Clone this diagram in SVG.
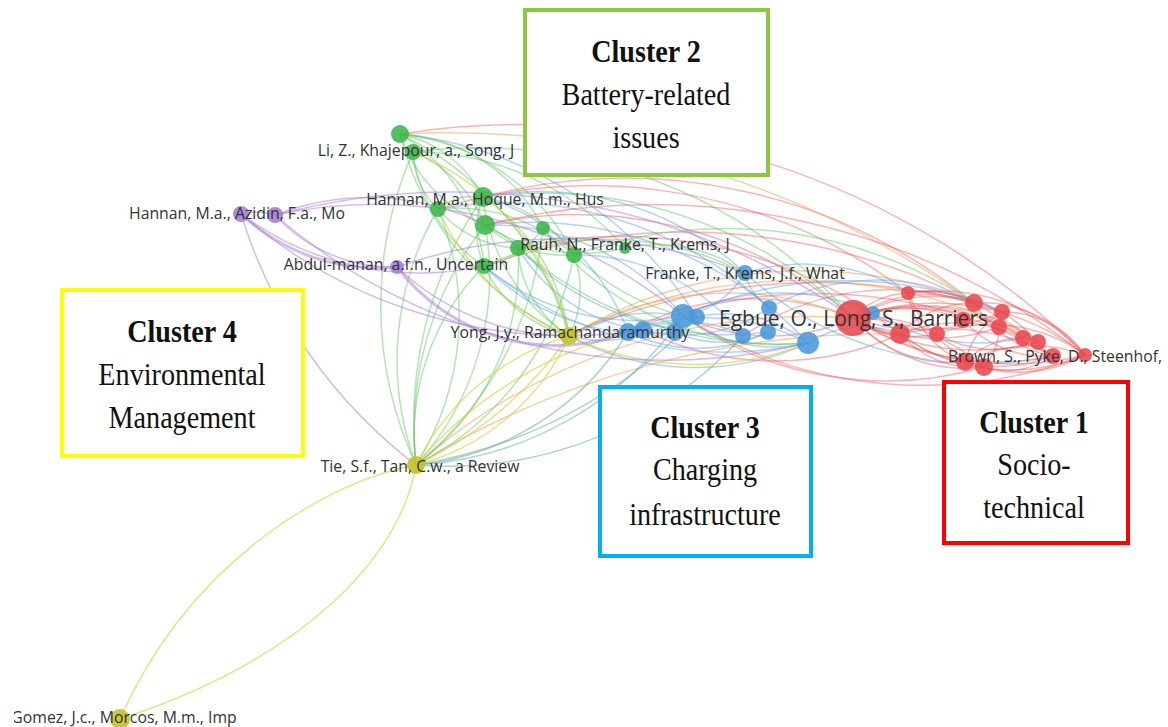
<svg xmlns="http://www.w3.org/2000/svg" width="1168" height="727" viewBox="0 0 1168 727">
<style>
path{fill:none;stroke-width:1.5;stroke-linecap:round}
.er{stroke:#e8474c;stroke-opacity:.4}
.eo{stroke:#f0a050;stroke-opacity:.5}
.eb{stroke:#5a9ee0;stroke-opacity:.45}
.et{stroke:#5fae86;stroke-opacity:.5}
.eg{stroke:#5cc25a;stroke-opacity:.45}
.ey{stroke:#d2d24a;stroke-opacity:.65}
.ep{stroke:#a57bd6;stroke-opacity:.5}
.thick{stroke-width:3}
.nr{fill:#e8484e;fill-opacity:.88}
.ng{fill:#3db54a;fill-opacity:.88}
.nb{fill:#4a97dc;fill-opacity:.88}
.ny{fill:#c4c12a;fill-opacity:.9}
.np{fill:#a57bd6;fill-opacity:.88}
.lb{font-family:"Open Sans","DejaVu Sans",sans-serif;font-size:15.8px;fill:#333;text-anchor:middle}
.box{fill:#fff;stroke-width:4}
.bt{font-family:"Liberation Serif","Times New Roman",serif;font-size:32px;fill:#111;text-anchor:middle}
.bt.b{font-weight:bold}
</style>
<defs>
<clipPath id="clipL"><rect x="14" y="0" width="1154" height="727"/></clipPath>
</defs>
<rect width="1168" height="727" fill="#fff"/>
<g id="connectors">
<path class="er" d="M853,318 A240,240 0 0 1 1085,355"/>
<path class="er" d="M853,318 A300,300 0 0 0 1085,355"/>
<path class="er" d="M853,318 A220,220 0 0 1 1053,356"/>
<path class="er" d="M853,318 A260,260 0 0 0 1053,356"/>
<path class="er" d="M853,318 A200,200 0 0 1 1038,342"/>
<path class="er" d="M853,318 A250,250 0 0 0 1038,342"/>
<path class="er" d="M853,318 A190,190 0 0 1 1023,338"/>
<path class="er" d="M853,318 A160,160 0 0 1 1002,312"/>
<path class="er" d="M853,318 A200,200 0 0 0 1002,312"/>
<path class="er" d="M853,318 A130,130 0 0 1 974,303"/>
<path class="er" d="M853,318 A180,180 0 0 0 999,327"/>
<path class="er" d="M853,318 A80,80 0 0 1 908,293"/>
<path class="er" d="M853,318 A70,70 0 0 0 900,334"/>
<path class="er" d="M853,318 A110,110 0 0 0 937,334"/>
<path class="er" d="M853,318 A150,150 0 0 1 937,334"/>
<path class="er" d="M853,318 A130,130 0 0 0 965,362"/>
<path class="er" d="M853,318 A150,150 0 0 0 984,367"/>
<path class="er" d="M853,318 A200,200 0 0 1 984,367"/>
<path class="er" d="M853,318 A140,140 0 0 1 963,320"/>
<path class="er" d="M908,293 A200,200 0 0 1 1085,355"/>
<path class="er" d="M908,293 A150,150 0 0 1 1038,342"/>
<path class="er" d="M908,293 A100,100 0 0 1 974,303"/>
<path class="er" d="M908,293 A130,130 0 0 0 984,367"/>
<path class="er" d="M900,334 A160,160 0 0 0 1053,356"/>
<path class="er" d="M900,334 A220,220 0 0 1 1053,356"/>
<path class="er" d="M900,334 A190,190 0 0 0 1085,355"/>
<path class="er" d="M900,334 A150,150 0 0 1 1023,338"/>
<path class="er" d="M900,334 A100,100 0 0 0 984,367"/>
<path class="er" d="M900,334 A100,100 0 0 1 974,303"/>
<path class="er" d="M937,334 A160,160 0 0 1 1085,355"/>
<path class="er" d="M937,334 A120,120 0 0 0 1038,342"/>
<path class="er" d="M974,303 A130,130 0 0 1 1085,355"/>
<path class="er" d="M974,303 A120,120 0 0 0 1053,356"/>
<path class="er" d="M1002,312 A100,100 0 0 1 1085,355"/>
<path class="er" d="M1002,312 A80,80 0 0 0 965,362"/>
<path class="er" d="M963,320 A110,110 0 0 0 1053,356"/>
<path class="er" d="M965,362 A150,150 0 0 1 1085,355"/>
<path class="er" d="M965,362 A140,140 0 0 0 1085,355"/>
<path class="er" d="M984,367 A80,80 0 0 0 1053,356"/>
<path class="er" d="M999,327 A60,60 0 0 1 984,367"/>
<path class="er" d="M1023,338 A80,80 0 0 0 965,362"/>
<path class="er" d="M908,293 A90,90 0 0 0 965,362"/>
<path class="er" d="M974,303 A550,550 0 0 0 483,197"/>
<path class="er" d="M1085,355 A800,800 0 0 0 400,134"/>
<path class="er" d="M853,318 A420,420 0 0 0 485,225"/>
<path class="er" d="M908,293 A520,520 0 0 0 438,209"/>
<path class="er" d="M1038,342 A620,620 0 0 0 484,266"/>
<path class="er" d="M900,334 A450,450 0 0 0 518,248"/>
<path class="er" d="M853,318 A200,200 0 0 1 683,316"/>
<path class="er" d="M853,318 A260,260 0 0 0 628,332"/>
<path class="er" d="M900,334 A300,300 0 0 1 643,330"/>
<path class="er" d="M974,303 A260,260 0 0 0 743,336"/>
<path class="er" d="M1085,355 A450,450 0 0 1 683,316"/>
<path class="er" d="M1053,356 A480,480 0 0 0 628,332"/>
<path class="er" d="M984,367 A350,350 0 0 1 683,316"/>
<path class="er" d="M1002,312 A600,600 0 0 0 569,336"/>
<path class="er" d="M1085,355 A700,700 0 0 0 485,225"/>
<path class="eo" d="M569,336 A320,320 0 0 1 853,318"/>
<path class="eo" d="M569,336 A460,460 0 0 1 974,303"/>
<path class="eo" d="M416,465 A900,900 0 0 1 900,334"/>
<path class="eo" d="M400,134 A900,900 0 0 1 974,303"/>
<path class="eo" d="M569,336 A500,500 0 0 1 1038,342"/>
<path class="eo" d="M416,465 A600,600 0 0 1 853,318"/>
<path class="eb" d="M683,316 A250,250 0 0 0 485,225"/>
<path class="eb" d="M683,316 A240,240 0 0 1 484,266"/>
<path class="eb" d="M745,273 A300,300 0 0 0 483,197"/>
<path class="eb" d="M643,330 A170,170 0 0 1 518,248"/>
<path class="eb" d="M743,336 A210,210 0 0 0 574,255"/>
<path class="eb" d="M808,343 A380,380 0 0 0 485,225"/>
<path class="eb" d="M769,308 A380,380 0 0 0 438,209"/>
<path class="eb" d="M675,332 A230,230 0 0 1 484,266"/>
<path class="eb" d="M808,343 A380,380 0 0 1 484,266"/>
<path class="eb" d="M697,317 A400,400 0 0 0 400,134"/>
<path class="eb" d="M768,332 A300,300 0 0 1 518,248"/>
<path class="eb" d="M628,332 A220,220 0 0 0 483,197"/>
<path class="eb" d="M683,316 A140,140 0 0 1 569,336"/>
<path class="eb" d="M683,316 A160,160 0 0 0 569,336"/>
<path class="eb" d="M808,343 A270,270 0 0 1 569,336"/>
<path class="eb" d="M683,316 A350,350 0 0 1 416,465"/>
<path class="eb" d="M683,316 A150,150 0 0 0 808,343"/>
<path class="eb" d="M745,273 A60,60 0 0 0 769,308"/>
<path class="eb" d="M643,330 A120,120 0 0 1 743,336"/>
<path class="eb" d="M628,332 A160,160 0 0 0 768,332"/>
<path class="eb" d="M697,317 A130,130 0 0 1 808,343"/>
<path class="eb" d="M675,332 A110,110 0 0 0 768,332"/>
<path class="eb" d="M745,273 A90,90 0 0 1 683,316"/>
<path class="eb" d="M683,316 A220,220 0 0 1 873,313"/>
<path class="eb" d="M628,332 A220,220 0 0 1 808,343"/>
<path class="eb" d="M643,330 A150,150 0 0 0 769,308"/>
<path class="eb" d="M745,273 A200,200 0 0 1 908,293"/>
<path class="eb" d="M808,343 A100,100 0 0 1 900,334"/>
<path class="eb" d="M769,308 A220,220 0 0 1 974,303"/>
<path class="eb" d="M873,313 A200,200 0 0 0 1023,338"/>
<path class="eb" d="M745,273 A350,350 0 0 0 1053,356"/>
<path class="eb" d="M683,316 A400,400 0 0 1 1002,312"/>
<path class="et" d="M628,332 A280,280 0 0 1 416,465"/>
<path class="et" d="M743,336 A400,400 0 0 1 416,465"/>
<path class="et" d="M697,317 A500,500 0 0 1 416,465"/>
<path class="eg" d="M400,134 A120,120 0 0 1 483,197"/>
<path class="eg" d="M400,134 A150,150 0 0 0 485,225"/>
<path class="eg" d="M413,152 A130,130 0 0 1 485,225"/>
<path class="eg" d="M413,152 A160,160 0 0 0 484,266"/>
<path class="eg" d="M438,209 A60,60 0 0 1 483,197"/>
<path class="eg" d="M438,209 A110,110 0 0 0 518,248"/>
<path class="eg" d="M483,197 A140,140 0 0 1 574,255"/>
<path class="eg" d="M485,225 A120,120 0 0 0 574,255"/>
<path class="eg" d="M543,228 A90,90 0 0 1 484,266"/>
<path class="eg" d="M518,248 A140,140 0 0 1 625,248"/>
<path class="eg" d="M483,197 A90,90 0 0 0 484,266"/>
<path class="eg" d="M438,209 A170,170 0 0 1 574,255"/>
<path class="eg" d="M400,134 A170,170 0 0 1 484,266"/>
<path class="eg" d="M413,152 A80,80 0 0 0 438,209"/>
<path class="eg" d="M400,134 A220,220 0 0 1 574,255"/>
<path class="eg" d="M400,134 A170,170 0 0 1 543,228"/>
<path class="eg" d="M413,152 A280,280 0 0 1 625,248"/>
<path class="eg" d="M485,225 A180,180 0 0 0 625,248"/>
<path class="eg" d="M400,134 A300,300 0 0 0 569,336"/>
<path class="eg" d="M400,134 A320,320 0 0 1 569,336"/>
<path class="eg" d="M483,197 A190,190 0 0 0 569,336"/>
<path class="eg" d="M483,197 A200,200 0 0 1 569,336"/>
<path class="eg" d="M485,225 A150,150 0 0 1 569,336"/>
<path class="eg" d="M484,266 A130,130 0 0 0 569,336"/>
<path class="eg" d="M518,248 A110,110 0 0 0 569,336"/>
<path class="eg" d="M574,255 A100,100 0 0 1 569,336"/>
<path class="eg" d="M438,209 A300,300 0 0 0 416,465"/>
<path class="eg" d="M438,209 A280,280 0 0 1 416,465"/>
<path class="eg" d="M485,225 A280,280 0 0 1 416,465"/>
<path class="eg" d="M485,225 A330,330 0 0 0 416,465"/>
<path class="eg" d="M484,266 A240,240 0 0 0 416,465"/>
<path class="eg" d="M413,152 A380,380 0 0 0 416,465"/>
<path class="eg" d="M574,255 A300,300 0 0 1 416,465"/>
<path class="eg" d="M543,228 A350,350 0 0 1 416,465"/>
<path class="eg" d="M483,197 A400,400 0 0 0 416,465"/>
<path class="eg" d="M518,248 A250,250 0 0 1 416,465"/>
<path class="eg" d="M483,197 A450,450 0 0 1 853,318"/>
<path class="eg" d="M484,266 A300,300 0 0 1 745,273"/>
<path class="eg" d="M574,255 A450,450 0 0 1 974,303"/>
<path class="eg" d="M518,248 A400,400 0 0 0 808,343"/>
<path class="eg" d="M625,248 A150,150 0 0 1 745,273"/>
<path class="eg" d="M574,255 A250,250 0 0 0 683,316"/>
<path class="eg" d="M543,228 A300,300 0 0 0 808,343"/>
<path class="eg" d="M413,152 A500,500 0 0 1 853,318"/>
<path class="ey" d="M569,336 A250,250 0 0 0 416,465"/>
<path class="ey" d="M569,336 A230,230 0 0 1 416,465"/>
<path class="ey" d="M569,336 A400,400 0 0 1 416,465"/>
<path class="ey" d="M416,465 C330,480 190,560 120,719"/>
<path class="ey" d="M416,465 C400,560 300,660 120,719"/>
<path class="ey" d="M569,336 A300,300 0 0 0 808,343"/>
<path class="ey" d="M416,465 A400,400 0 0 1 643,330"/>
<path class="ey" d="M569,336 A250,250 0 0 1 438,209"/>
<path class="ey" d="M569,336 A260,260 0 0 0 413,152"/>
<path class="ep thick" d="M397,267 A200,200 0 0 0 628,332"/>
<path class="ep thick" d="M241,214 A200,200 0 0 0 397,267"/>
<path class="ep" d="M241,214 A60,60 0 0 1 275,215"/>
<path class="ep" d="M275,215 A160,160 0 0 0 397,267"/>
<path class="ep" d="M275,215 A260,260 0 0 1 485,225"/>
<path class="ep" d="M241,214 A300,300 0 0 0 484,266"/>
<path class="ep" d="M397,267 A250,250 0 0 0 569,336"/>
<path class="ep" d="M241,214 A500,500 0 0 0 643,330"/>
<path class="ep" d="M275,215 A700,700 0 0 1 853,318"/>
<path class="ep" d="M275,215 A480,480 0 0 1 683,316"/>
<path class="ep" d="M241,214 A500,500 0 0 0 416,465"/>
<path class="ep" d="M397,267 A500,500 0 0 1 745,273"/>
<path class="ep" d="M275,215 A600,600 0 0 0 808,343"/>
</g>
<g id="n-g1"><circle class="ng" cx="400" cy="134" r="9"/></g>
<g id="n-g3"><circle class="ng" cx="438" cy="209" r="8"/></g>
<g id="n-g5"><circle class="ng" cx="485" cy="225" r="10"/></g>
<g id="n-g6"><circle class="ng" cx="543" cy="228" r="7"/></g>
<g id="n-g7"><circle class="ng" cx="518" cy="248" r="8"/></g>
<g id="n-g8"><circle class="ng" cx="574" cy="255" r="8"/></g>
<g id="n-g9"><circle class="ng" cx="484" cy="266" r="8"/></g>
<g id="n-p2"><circle class="np" cx="275" cy="215" r="8"/></g>
<g id="n-b2"><circle class="nb" cx="683" cy="316" r="12"/></g>
<g id="n-b3"><circle class="nb" cx="697" cy="317" r="8"/></g>
<g id="n-b4"><circle class="nb" cx="675" cy="332" r="9"/></g>
<g id="n-b5"><circle class="nb" cx="643" cy="330" r="9"/></g>
<g id="n-b6"><circle class="nb" cx="628" cy="332" r="9"/></g>
<g id="n-b7"><circle class="nb" cx="769" cy="308" r="8"/></g>
<g id="n-b8"><circle class="nb" cx="768" cy="332" r="8"/></g>
<g id="n-b9"><circle class="nb" cx="743" cy="336" r="8"/></g>
<g id="n-b10"><circle class="nb" cx="808" cy="343" r="11"/></g>
<g id="n-b11"><circle class="nb" cx="873" cy="313" r="7"/></g>
<g id="n-r2"><circle class="nr" cx="908" cy="293" r="7"/></g>
<g id="n-r3"><circle class="nr" cx="900" cy="334" r="10"/></g>
<g id="n-r4"><circle class="nr" cx="937" cy="334" r="8"/></g>
<g id="n-r5"><circle class="nr" cx="974" cy="303" r="9"/></g>
<g id="n-r14"><circle class="nr" cx="963" cy="320" r="8"/></g>
<g id="n-r6"><circle class="nr" cx="1002" cy="312" r="8"/></g>
<g id="n-r7"><circle class="nr" cx="999" cy="327" r="8"/></g>
<g id="n-r8"><circle class="nr" cx="1023" cy="338" r="8"/></g>
<g id="n-r9"><circle class="nr" cx="1038" cy="342" r="8"/></g>
<g id="n-r11"><circle class="nr" cx="1085" cy="355" r="7"/></g>
<g id="n-r12"><circle class="nr" cx="965" cy="362" r="9"/></g>
<g id="n-r13"><circle class="nr" cx="984" cy="367" r="9"/></g>
<g id="n-r1"><circle class="nr" cx="853" cy="318" r="18"/></g>
<g id="n-g2"><circle class="ng" cx="413" cy="152" r="8"/><text class="lb" x="416" y="155.5">Li, Z., Khajepour, a., Song, J</text></g>
<g id="n-g4"><circle class="ng" cx="483" cy="197" r="10"/><text class="lb" x="485" y="204.5">Hannan, M.a., Hoque, M.m., Hus</text></g>
<g id="n-p1"><circle class="np" cx="241" cy="214" r="8"/><text class="lb" x="237" y="218.5">Hannan, M.a., Azidin, F.a., Mo</text></g>
<g id="n-p3"><circle class="np" cx="397" cy="267" r="7"/><text class="lb" x="396" y="269.5">Abdul-manan, a.f.n., Uncertain</text></g>
<g id="n-g10"><circle class="ng" cx="625" cy="248" r="6"/><text class="lb" x="625" y="250">Rauh, N., Franke, T., Krems, J</text></g>
<g id="n-b1"><circle class="nb" cx="745" cy="273" r="8"/><text class="lb" x="745" y="278.5">Franke, T., Krems, J.f., What</text></g>
<g id="n-y1"><circle class="ny" cx="569" cy="336" r="9"/><text class="lb" x="570" y="337.5">Yong, J.y., Ramachandaramurthy</text></g>
<g id="n-r10"><circle class="nr" cx="1053" cy="356" r="8"/><text class="lb" x="1055" y="361.5">Brown, S., Pyke, D., Steenhof,</text></g>
<g id="n-y2"><circle class="ny" cx="416" cy="465" r="9"/><text class="lb" x="420" y="471.5">Tie, S.f., Tan, C.w., a Review</text></g>
<g id="n-y3"><circle class="ny" cx="120" cy="719" r="10"/><text class="lb" x="124" y="722.5" clip-path="url(#clipL)">Gomez, J.c., Morcos, M.m., Imp</text></g>
<g id="n-r1-label"><text class="lb" x="853.5" y="325.5" style="font-size:21px">Egbue, O., Long, S., Barriers</text></g>
<g id="cluster2">
<rect class="box" x="525" y="10" width="243" height="165" stroke="#8dc641"/>
<text class="bt b" transform="translate(646,62) scale(0.88,1)">Cluster 2</text>
<text class="bt" transform="translate(646,105) scale(0.88,1)">Battery-related</text>
<text class="bt" transform="translate(646,148) scale(0.88,1)">issues</text>
</g>
<g id="cluster4">
<rect class="box" x="62" y="290" width="241" height="166" stroke="#ffff00"/>
<text class="bt b" transform="translate(182,342) scale(0.88,1)">Cluster 4</text>
<text class="bt" transform="translate(182,385) scale(0.88,1)">Environmental</text>
<text class="bt" transform="translate(182,428) scale(0.88,1)">Management</text>
</g>
<g id="cluster3">
<rect class="box" x="600" y="387" width="211" height="169" stroke="#00b0f0"/>
<text class="bt b" transform="translate(705,438) scale(0.88,1)">Cluster 3</text>
<text class="bt" transform="translate(705,480) scale(0.88,1)">Charging</text>
<text class="bt" transform="translate(705,525) scale(0.88,1)">infrastructure</text>
</g>
<g id="cluster1">
<rect class="box" x="944" y="382" width="184" height="161" stroke="#ff0000"/>
<text class="bt b" transform="translate(1034,433) scale(0.88,1)">Cluster 1</text>
<text class="bt" transform="translate(1034,475) scale(0.88,1)">Socio-</text>
<text class="bt" transform="translate(1034,518) scale(0.88,1)">technical</text>
</g>
</svg>
